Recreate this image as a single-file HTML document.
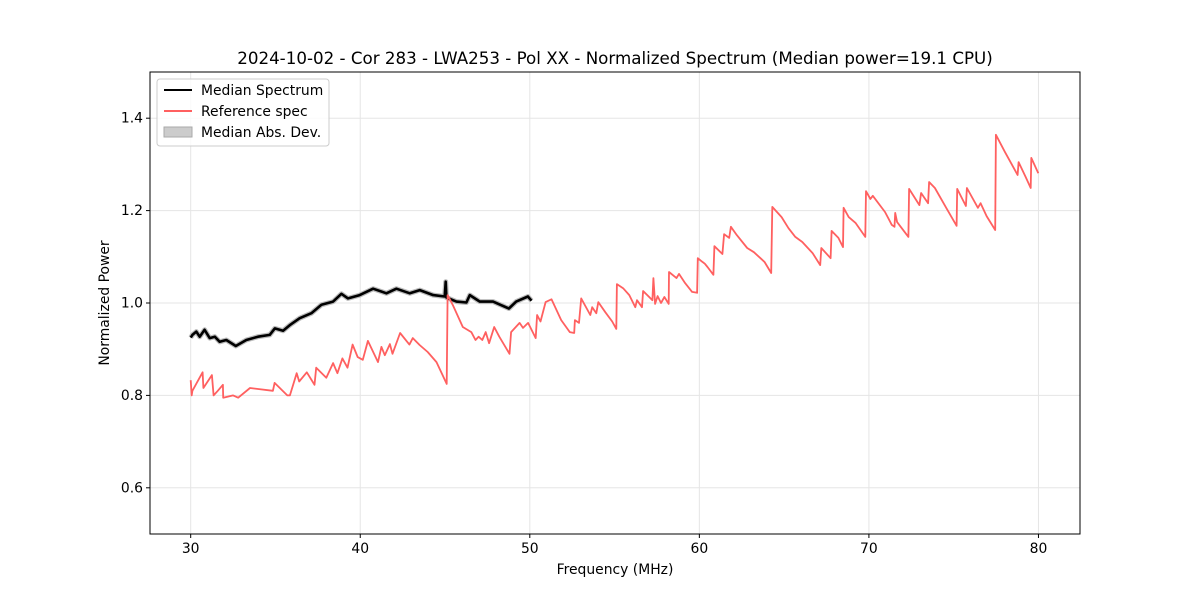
<!DOCTYPE html>
<html><head><meta charset="utf-8"><style>
body{margin:0;background:#fff;}
svg{display:block;font-family:"DejaVu Sans","Liberation Sans",sans-serif;}
</style></head><body>
<svg id="chart" width="1200" height="600">
<rect x="0" y="0" width="1200" height="600" fill="#fff"/>
<text x="615" y="64" text-anchor="middle" font-size="16.7">2024-10-02 - Cor 283 - LWA253 - Pol XX - Normalized Spectrum (Median power=19.1 CPU)</text>
<g id="grid"></g>
<g id="series"></g>
<rect x="150" y="72" width="930" height="462" fill="none" stroke="#000" stroke-width="1"/>
<g id="axes"></g>
<text x="615" y="574" text-anchor="middle" font-size="13.9">Frequency (MHz)</text>
<text transform="translate(109,303) rotate(-90)" text-anchor="middle" font-size="13.9">Normalized Power</text>
<g>
<rect x="157" y="79" width="172" height="67" rx="3" fill="#fff" fill-opacity="0.8" stroke="#ccc"/>
<g><line x1="164" y1="90" x2="192" y2="90" stroke="#000" stroke-width="2"/><text x="201" y="95" font-size="13.9">Median Spectrum</text></g>
<g><line x1="164" y1="111" x2="192" y2="111" stroke="#ff6060" stroke-width="2"/><text x="201" y="116" font-size="13.9">Reference spec</text></g>
<g><rect x="164" y="127" width="28" height="10" fill="#ccc" stroke="#aaa"/><text x="201" y="137" font-size="13.9">Median Abs. Dev.</text></g>
</g>
</svg>
<script>
const xTicks=[30,40,50,60,70,80];
const yTicks=[0.6,0.8,1.0,1.2,1.4];
const yTickLabels=["0.6","0.8","1.0","1.2","1.4"];
const medFreq=[30.0,30.1,30.33,30.53,30.82,31.12,31.42,31.71,32.1,32.66,33.28,33.97,34.66,34.96,35.45,35.84,36.43,37.12,37.71,38.4,38.89,39.28,39.97,40.76,41.54,42.13,42.92,43.51,44.3,44.98,45.04,45.08,45.67,46.26,46.46,47.05,47.83,48.77,49.2,49.89,50.1];
const medVal=[0.925,0.931,0.938,0.927,0.942,0.924,0.927,0.916,0.920,0.907,0.920,0.927,0.931,0.945,0.940,0.952,0.967,0.978,0.996,1.003,1.020,1.010,1.017,1.031,1.021,1.031,1.021,1.028,1.017,1.014,1.046,1.012,1.003,1.001,1.017,1.003,1.003,0.988,1.003,1.014,1.005];
const refFreq=[30.0,30.06,30.1,30.7,30.75,31.25,31.35,31.6,31.9,31.92,32.5,32.8,33.5,34.85,34.95,35.7,35.85,36.25,36.4,36.85,37.3,37.4,38.0,38.4,38.65,38.95,39.25,39.55,39.85,40.15,40.45,41.05,41.25,41.45,41.75,41.9,42.35,42.9,43.1,43.5,43.98,44.5,45.1,45.15,45.45,46.05,46.55,46.8,46.98,47.2,47.4,47.6,47.9,48.2,48.8,48.9,49.4,49.6,49.9,50.35,50.43,50.63,50.93,51.28,51.85,52.36,52.62,52.66,52.9,53.03,53.57,53.68,53.92,54.04,54.45,54.86,55.1,55.14,55.5,55.87,56.22,56.32,56.62,56.68,57.23,57.29,57.39,57.54,57.74,57.94,58.19,58.21,58.65,58.8,59.16,59.57,59.87,59.91,60.18,60.32,60.48,60.83,60.89,61.36,61.46,61.76,61.86,62.21,62.82,63.22,63.84,64.24,64.3,64.85,65.26,65.66,66.07,66.68,67.13,67.19,67.74,67.8,68.2,68.47,68.51,68.81,69.22,69.79,69.83,70.09,70.23,70.95,71.35,71.51,71.55,71.66,72.33,72.37,72.98,73.08,73.49,73.55,73.89,74.56,75.17,75.21,75.72,75.78,76.43,76.59,76.94,77.45,77.49,78.02,78.77,78.83,79.24,79.54,79.58,79.99];
const refVal=[0.833,0.80,0.81,0.85,0.816,0.844,0.80,0.81,0.823,0.795,0.80,0.795,0.816,0.81,0.827,0.80,0.80,0.848,0.83,0.85,0.823,0.86,0.838,0.87,0.848,0.88,0.86,0.91,0.883,0.877,0.918,0.872,0.905,0.887,0.911,0.89,0.935,0.91,0.924,0.909,0.894,0.872,0.825,1.017,0.996,0.948,0.937,0.92,0.927,0.92,0.937,0.913,0.948,0.927,0.89,0.937,0.957,0.946,0.957,0.924,0.974,0.96,1.002,1.008,0.963,0.937,0.935,0.963,0.957,1.01,0.974,0.991,0.978,1.002,0.98,0.96,0.944,1.041,1.032,1.017,0.991,1.006,0.991,1.026,1.006,1.054,0.998,1.015,1.0,1.013,0.998,1.067,1.054,1.063,1.043,1.024,1.022,1.097,1.089,1.085,1.078,1.061,1.123,1.106,1.149,1.141,1.165,1.147,1.119,1.11,1.089,1.065,1.208,1.186,1.162,1.143,1.132,1.108,1.082,1.119,1.097,1.156,1.141,1.121,1.206,1.186,1.173,1.143,1.242,1.225,1.232,1.197,1.169,1.165,1.195,1.175,1.143,1.247,1.212,1.238,1.216,1.262,1.249,1.206,1.167,1.247,1.21,1.249,1.206,1.216,1.188,1.158,1.364,1.327,1.277,1.305,1.273,1.249,1.314,1.281];
const NS="http://www.w3.org/2000/svg";
const X0=150,X1=1080,Y0=534,Y1=72,XMIN=27.6,XMAX=82.45,YMIN=0.5,YMAX=1.5;
function sx(f){return X0+(f-XMIN)/(XMAX-XMIN)*(X1-X0);}
function sy(v){return Y0-(v-YMIN)/(YMAX-YMIN)*(Y0-Y1);}
function mk(t,a,p){const e=document.createElementNS(NS,t);for(const k in a)e.setAttribute(k,a[k]);p.appendChild(e);return e;}
const grid=document.getElementById('grid'),axes=document.getElementById('axes'),ser=document.getElementById('series');
xTicks.forEach(t=>{const x=sx(t);
 const g=mk('line',{x1:x,x2:x,y1:Y1,y2:Y0,stroke:'#e5e5e5','stroke-width':1},grid);
 
 
 const tk=mk('line',{x1:x,x2:x,y1:Y0,y2:Y0+4,stroke:'#000'},axes);
 
 
 const tx=mk('text',{x:x,y:Y0+19,'text-anchor':'middle','font-size':13.9},axes);tx.textContent=String(t);
 
 
});
yTicks.forEach((t,i)=>{const y=sy(t);
 const g=mk('line',{x1:X0,x2:X1,y1:y,y2:y,stroke:'#e5e5e5','stroke-width':1},grid);
 
 
 const tk=mk('line',{x1:X0-4,x2:X0,y1:y,y2:y,stroke:'#000'},axes);
 
 
 const tx=mk('text',{x:X0-7,y:y+4.5,'text-anchor':'end','font-size':13.9},axes);tx.textContent=yTickLabels[i];
 
 
});
function path(fr,vl){return fr.map((f,i)=>(i?'L':'M')+sx(f).toFixed(1)+','+sy(vl[i]).toFixed(1)).join('');}
const mad=mk('path',{d:path(medFreq,medVal),fill:'none',stroke:'#bbb','stroke-width':5,'stroke-linejoin':'round'},ser);


const med=mk('path',{d:path(medFreq,medVal),fill:'none',stroke:'#000','stroke-width':2.6,'stroke-linejoin':'round'},ser);


const ref=mk('path',{d:path(refFreq,refVal),fill:'none',stroke:'#ff6060','stroke-width':1.8,'stroke-linejoin':'round'},ser);


</script>
</body></html>
